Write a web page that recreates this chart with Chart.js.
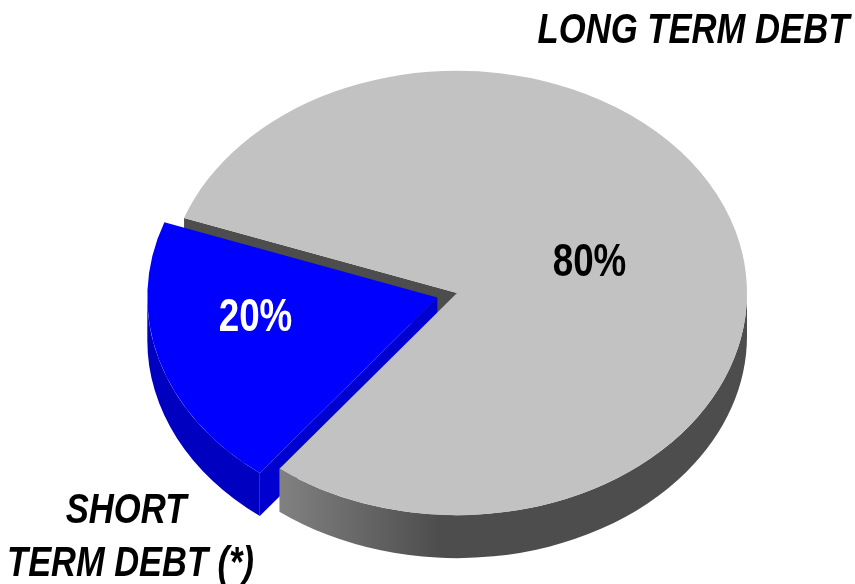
<!DOCTYPE html>
<html>
<head>
<meta charset="utf-8">
<style>
    html, body { margin: 0; padding: 0; background: #fff; }
    #wrap { position: relative; width: 855px; height: 584px; overflow: hidden; }
    canvas { display: block; }
</style>
</head>
<body>
<div id="wrap"><canvas id="chartDebt" width="855" height="584"></canvas></div>
<script src="https://cdn.jsdelivr.net/npm/chart.js@4"></script>
<script>
const categories = ["SHORT TERM DEBT (*)", "LONG TERM DEBT"];
const shares = [20, 80];
const topColors = ["#0000FF", "#C2C2C2"];

const squash = 0.766;   // pie is drawn flat then squeezed to look tilted
const depth = 43;
const explode = 20.5;   // how far the short term slice is pulled out
const fontName = '"Liberation Sans", Arial, sans-serif';

function clampedWalls(a0, a1) {
    // only the part of the rim facing the viewer (0..PI, with wraparound)
    const out = [];
    [0, Math.PI * 2].forEach(base => {
        const s = Math.max(a0, base), e = Math.min(a1, base + Math.PI);
        if (e > s) out.push([s, e]);
    });
    return out;
}

function rimWall(ctx, cx, cy, r, s, e, fill) {
    ctx.beginPath();
    ctx.ellipse(cx, cy, r, r * squash, 0, s, e);
    ctx.ellipse(cx, cy + depth, r, r * squash, 0, e, s, true);
    ctx.closePath();
    ctx.fillStyle = fill;
    ctx.fill();
}

function cutWall(ctx, cx, cy, r, a, fill) {
    const px = cx + Math.cos(a) * r, py = cy + Math.sin(a) * r * squash;
    ctx.beginPath();
    ctx.moveTo(cx, cy);
    ctx.lineTo(px, py);
    ctx.lineTo(px, py + depth);
    ctx.lineTo(cx, cy + depth);
    ctx.closePath();
    ctx.fillStyle = fill;
    ctx.fill();
}

function drawText(ctx, text, x, y, size, stretch, color, italic) {
    ctx.save();
    ctx.translate(x, y);
    ctx.scale(stretch, 1);
    ctx.font = (italic ? 'italic ' : '') + 'bold ' + size + 'px ' + fontName;
    ctx.textAlign = 'center';
    ctx.textBaseline = 'alphabetic';
    ctx.fillStyle = color;
    ctx.fillText(text, 0, 0);
    ctx.restore();
}

const tiltPlugin = {
    id: 'tilt',
    afterDatasetsUpdate(chart) {
        const blue = chart.getDatasetMeta(0).data[0];
        const mid = (blue.startAngle + blue.endAngle) / 2;
        blue.x += Math.cos(mid) * explode;
        blue.y += Math.sin(mid) * explode;
    },
    beforeDatasetsDraw(chart) {
        const ctx = chart.ctx;
        const arcs = chart.getDatasetMeta(0).data;
        const blue = arcs[0], gray = arcs[1];
        const bx = blue.x;
        const by = gray.y + (blue.y - gray.y) * squash;
        const r = gray.outerRadius;

        // back to front: gray cut face, blue side, gray rim
        cutWall(ctx, gray.x, gray.y, r, gray.startAngle, '#4D4D4D');
        clampedWalls(blue.startAngle, blue.endAngle).forEach(w => rimWall(ctx, bx, by, r, w[0], w[1], '#0000C0'));
        cutWall(ctx, bx, by, r, blue.startAngle, '#0000D0');

        const grad = ctx.createLinearGradient(283, 0, 440, 0);
        grad.addColorStop(0, '#808080');
        grad.addColorStop(1, '#4D4D4D');
        clampedWalls(gray.startAngle, gray.endAngle).forEach(w => rimWall(ctx, gray.x, gray.y, r, w[0], w[1], grad));

        ctx.save();
        ctx.translate(0, gray.y);
        ctx.scale(1, squash);
        ctx.translate(0, -gray.y);
    },
    afterDatasetsDraw(chart) {
        const ctx = chart.ctx;
        ctx.restore();
        drawText(ctx, shares[0] + '%', 255.5, 331, 46, 0.8, '#FFFFFF', false);
        drawText(ctx, shares[1] + '%', 589.5, 276, 46, 0.8, '#000000', false);
        drawText(ctx, categories[1], 693.5, 43, 42, 0.825, '#000000', true);
        drawText(ctx, 'SHORT', 126, 523, 42, 0.825, '#000000', true);
        drawText(ctx, 'TERM DEBT (*)', 130.5, 576, 42, 0.82, '#000000', true);
    }
};

new Chart(document.getElementById('chartDebt').getContext('2d'), {
    type: 'pie',
    data: {
        labels: categories,
        datasets: [{ data: shares, backgroundColor: topColors, borderWidth: 0 }]
    },
    options: {
        responsive: false,
        animation: false,
        events: [],
        rotation: 217.75,
        // radius 290 around (457,293)
        layout: { padding: { left: 167, right: 108, top: 3, bottom: 1 } },
        plugins: { legend: { display: false }, tooltip: { enabled: false } }
    },
    plugins: [tiltPlugin]
});
</script>
</body>
</html>
